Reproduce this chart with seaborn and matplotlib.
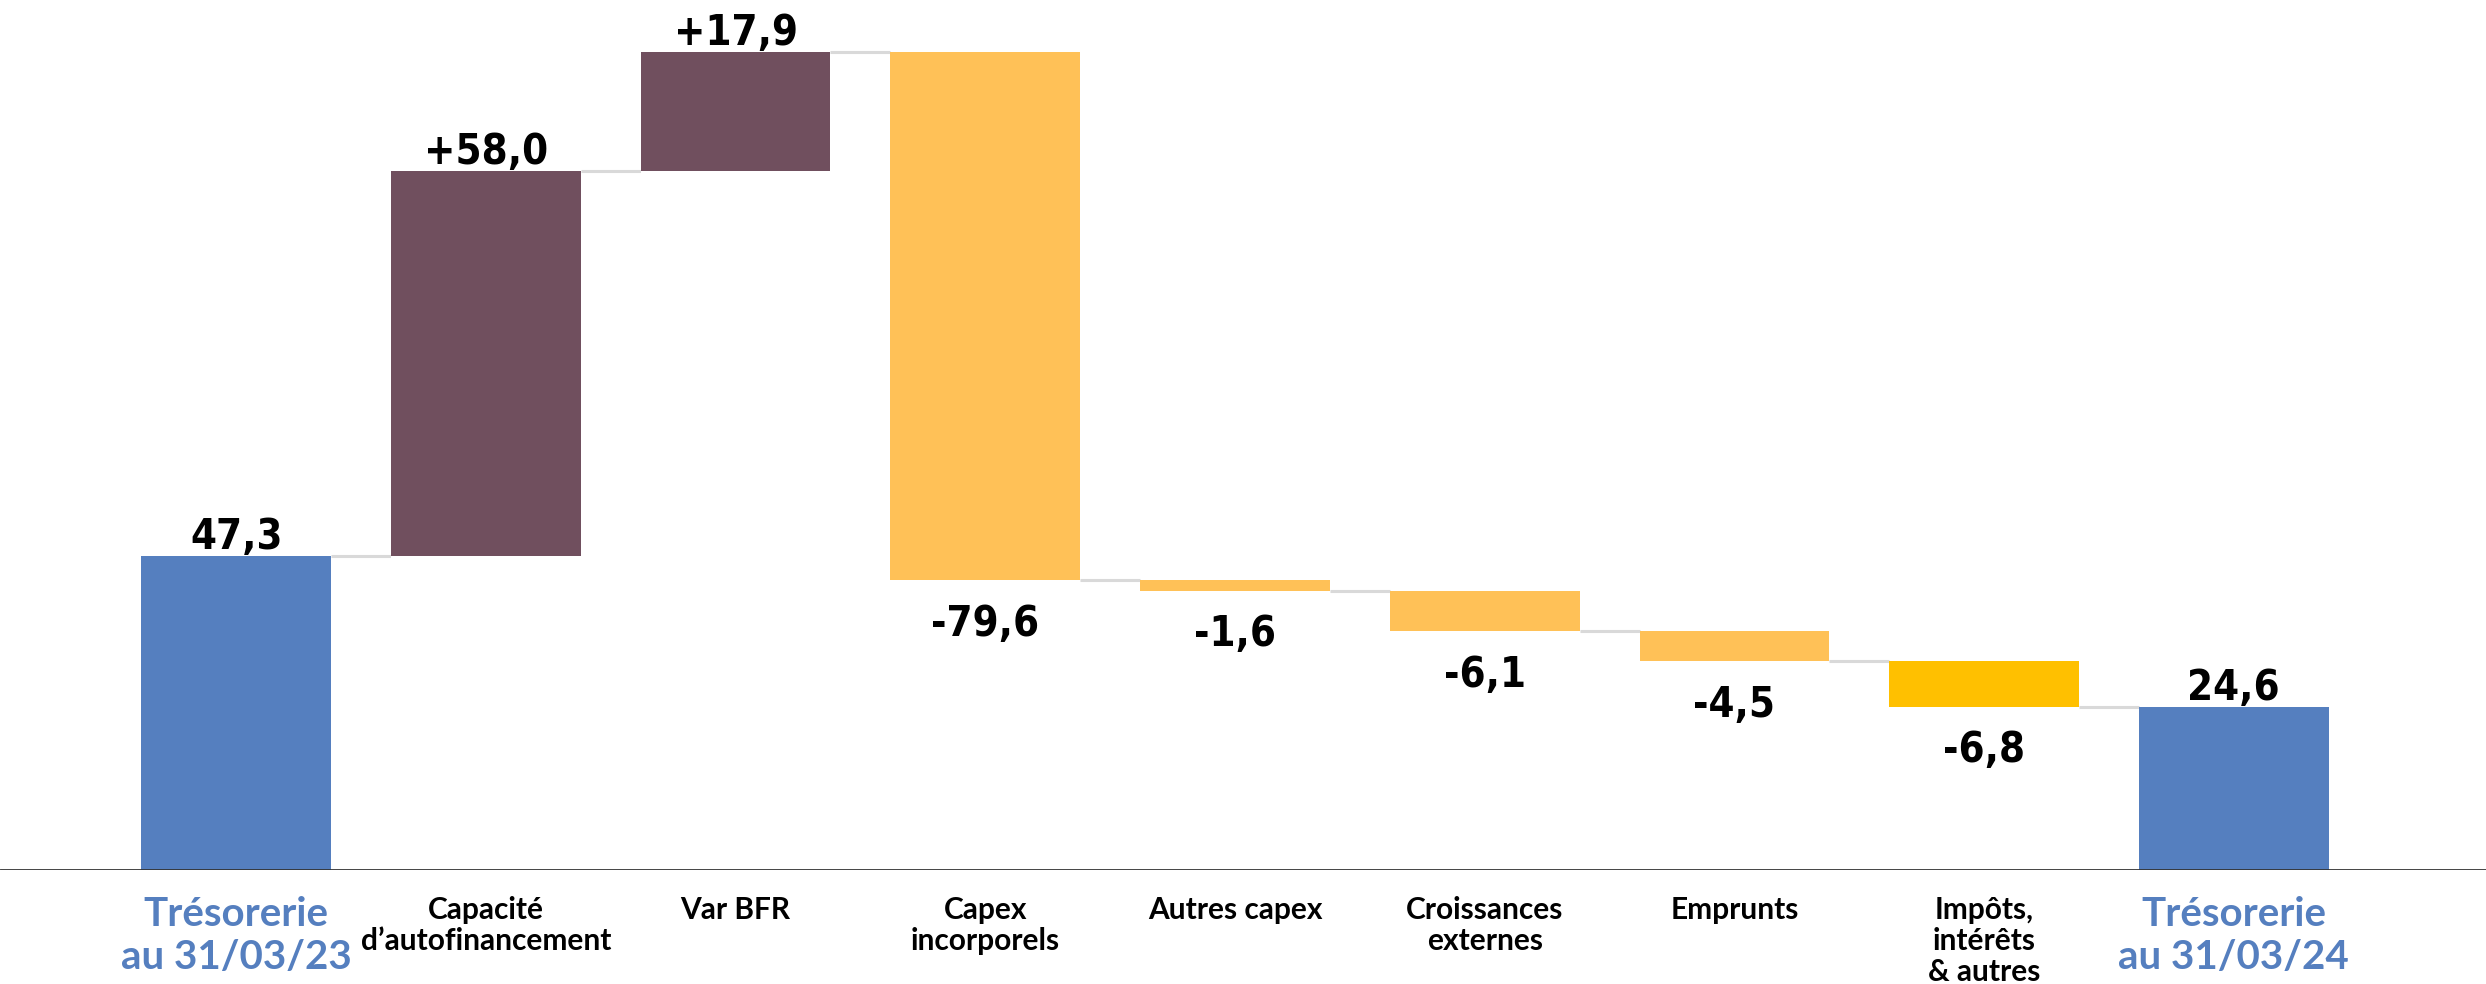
import matplotlib
matplotlib.use("Agg")
import matplotlib.pyplot as plt
from matplotlib import font_manager as fm
import seaborn as sns
import numpy as np
import pandas as pd

# données du waterfall (M€)
categories = ["Trésorerie\nau 31/03/23", "Capacité\nd’autofinancement", "Var BFR",
              "Capex\nincorporels", "Autres capex", "Croissances\nexternes",
              "Emprunts", "Impôts,\nintérêts\n& autres", "Trésorerie\nau 31/03/24"]
values = [47.3, 58.0, 17.9, -79.6, -1.6, -6.1, -4.5, -6.8, 24.6]
labels = ["47,3", "+58,0", "+17,9", "-79,6", "-1,6", "-6,1", "-4,5", "-6,8", "24,6"]
is_total = [True, False, False, False, False, False, False, False, True]
colors = ["#557FBF", "#704F5E", "#704F5E", "#FFC157", "#FFC157", "#FFC157",
          "#FFC157", "#FFC000", "#557FBF"]

# bas / haut de chaque barre
tops, bases, level, run = [], [], [], 0.0
for v, tot in zip(values, is_total):
    if tot:
        bases.append(0.0)
        tops.append(v)
        run = v
    else:
        new = run + v
        bases.append(min(run, new))
        tops.append(max(run, new))
        run = new
    level.append(run)

df = pd.DataFrame({"cat": categories, "top": tops, "base": bases})

# police étroite pour les valeurs si dispo
fonts = fm.fontManager.ttflist
names = {f.name for f in fonts}
vstretch = "normal"
vsize = 31
if "Liberation Sans Narrow" in names:
    vfam = "Liberation Sans Narrow"
elif any(f.name == "DejaVu Sans" and f.stretch in ("condensed", 300, "semi-condensed") for f in fonts):
    vfam = "DejaVu Sans"
    vstretch = "condensed"
    vsize = 30
else:
    vfam = "Roboto"
    vsize = 28

sns.set_style("white")
fig = plt.figure(figsize=(24.86, 9.84), dpi=100)
ax = fig.add_axes([0, 0.116, 1, 0.884])

bw = 0.76
sns.barplot(data=df, x="cat", y="top", hue="cat", palette=colors, legend=False,
            width=bw, saturation=1, linewidth=0, ax=ax, zorder=2)
sns.barplot(data=df, x="cat", y="base", color="white", width=bw, saturation=1,
            linewidth=0, ax=ax, zorder=3)

# traits de liaison
for i in range(len(values) - 1):
    ax.plot([i + bw / 2, i + 1 - bw / 2], [level[i], level[i]],
            color="#D9D9D9", lw=2.2, zorder=1, solid_capstyle="butt")

# étiquettes de valeur
vfont = dict(family=[vfam, "DejaVu Sans"], fontweight="bold", fontstretch=vstretch,
             fontsize=vsize, color="black")
for i, (v, lab) in enumerate(zip(values, labels)):
    if v >= 0:
        ax.annotate(lab, (i, tops[i]), xytext=(0, 5), textcoords="offset points",
                    ha="center", va="baseline", zorder=5, **vfont)
    else:
        ax.annotate(lab, (i, bases[i]), xytext=(0, -16), textcoords="offset points",
                    ha="center", va="top", zorder=5, **vfont)

ax.axhline(0, color="#333333", lw=2, zorder=6)
ax.set_xlim(-0.946, 9.01)
ax.set_ylim(0, 131)
ax.set_yticks([])
ax.set_xlabel("")
ax.set_ylabel("")
for s in ax.spines.values():
    s.set_visible(False)

ax.set_xticks(range(len(categories)))
ax.set_xticklabels(categories)
ax.tick_params(axis="x", length=0, pad=19)
for tl, t in zip(ax.get_xticklabels(), is_total):
    tl.set_family(["Lato", "DejaVu Sans"])
    tl.set_fontweight("bold")
    if t:
        tl.set_fontsize(29)
        tl.set_linespacing(1.2)
        tl.set_color("#557FBF")
    else:
        tl.set_fontsize(21.5)
        tl.set_linespacing(1.12)
        tl.set_color("black")

fig.savefig("out.png", dpi=100, facecolor="white")
